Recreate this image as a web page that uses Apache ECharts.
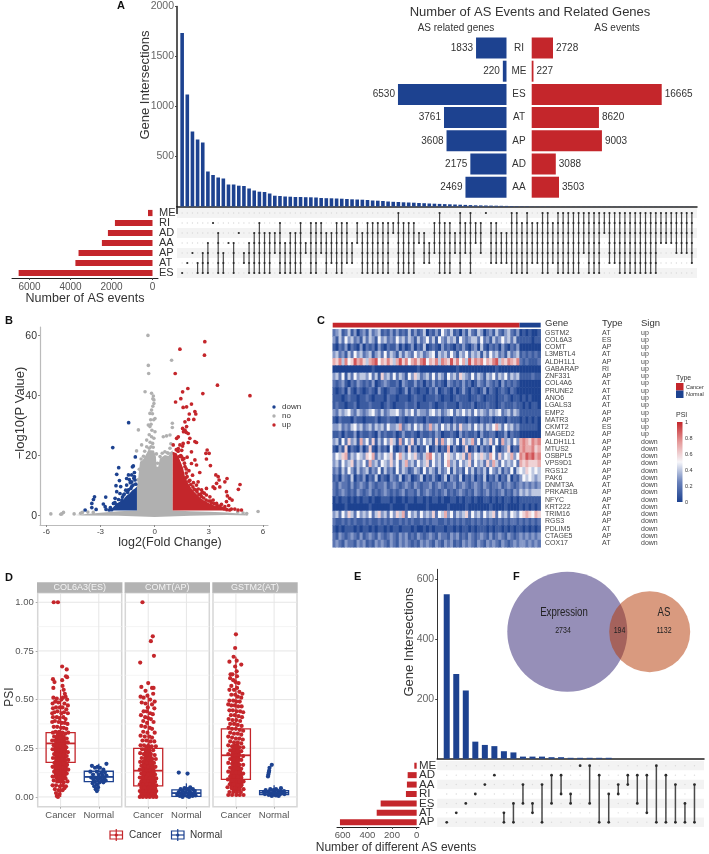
<!DOCTYPE html>
<html><head><meta charset="utf-8">
<style>html,body{margin:0;padding:0;background:#fff}#c{width:709px;height:854px}</style>
<script src="https://cdn.jsdelivr.net/npm/echarts@6/dist/echarts.min.js"></script>
</head><body><div id="c"></div>
<script>
const BLUE='#1d4290',RED='#c4262b',INK='#333333',GREY='#b0b0b0',FONT='Liberation Sans';
const PSI_RAMP=[BLUE,'#6a82bb','#f6f6fa','#e59a9a',RED];
// ---------- Panel A
const intersectionValuesA=[1735,1120,750,670,640,350,315,290,280,220,220,208,205,180,160,148,145,130,108,105,100,98,95,95,93,92,90,85,83,82,80,78,75,72,70,68,65,60,58,55,50,47,45,42,40,38,35,33,30,28,26,24,22,20,18,16,14,12,11,10,9,8,7,6,5,4,3,3,2,2,2,2,1,1,1,1,1,1,1,1,1,1,1,1,1,1,1,1,1,1,1,1,1,1,1,1,1,1,1,1];
const setRowsA=['ME','RI','AD','AA','AP','AT','ES'];
const setLettersA='MRDAPTE';
const setSizesA=[220,1833,2175,2469,3608,3761,6530];
const intersectionSpansA=['E','T','P','TE','PE','AE','R','DE','PE','A','AE','D','PT','AE','DE','RE','DE','DE','DP','RE','AE','DE','DE','RE','AP','RE','RE','RP','DE','DT','RE','RE','RT','AT','RA','DE','RE','RE','RE','RE','RE','RD','ME','RE','RE','RE','DA','DT','AT','RP','ME','RE','RE','DP','ME','RP','ME','RA','RP','M','RT','RT','DT','DT','ME','ME','RE','ME','RT','RT','ME','ME','RT','ME','ME','ME','ME','ME','MP','ME','ME','ME','MD','MT','MT','ME','ME','ME','ME','ME','ME','ME','ME','MA','MA','MA','MP','MP','MP','MT'];
const mirrorCats=['RI','ME','ES','AT','AP','AD','AA'];
const relatedGenes=[1833,220,6530,3761,3608,2175,2469];
const asEvents=[2728,227,16665,8620,9003,3088,3503];
// ---------- Panel B (hull vertices are the outline of the saturated point clouds)
const greyBase=[[-4.4,.2],[-3,1],[-2,1.5],[-1,1.7],[1,1.7],[2,1.5],[3,1.3],[4,1.1],[5,.6],[5.2,.1],[4,.2],[2,0],[0,-.4],[-2,0],[-4,.1]];
const greyCore=[[-.98,1.5],[-.98,9.7],[-.9,13],[-.81,18],[-.66,18.6],[-.44,20.8],[-.35,21.9],[-.04,21.7],[.07,19.7],[.11,16.3],[.2,16.3],[.29,19.1],[.57,20.2],[.76,19.9],[.99,21.9],[1,1.5]];
const blueCore=[[-.98,1.7],[-.98,9.7],[-1.09,9.1],[-1.22,8.6],[-1.4,7.4],[-1.58,6.6],[-1.73,5.4],[-1.92,4.7],[-2.1,4.1],[-2.28,3],[-2.41,1.7]];
const redCore=[[1,1.7],[1,21.3],[1.22,20.8],[1.4,18.6],[1.58,15.8],[1.68,13],[1.86,10.8],[2.04,9.1],[2.23,7.7],[2.47,6.3],[2.69,5.2],[2.96,4.3],[3.24,3.6],[3.52,2.8],[3.79,2.1],[4.07,1.7]];
const volcanoNo=[[-.37,60.1],[-.35,50.1],[-.33,47.4],[.94,51.8],[-.53,41.3],[-.17,40.8],[-.07,39.9],[-.1,39],[-.04,38.6],[-.04,37.4],[-.1,36.5],[-.17,35.2],[-.26,34.1],[.02,32.4],[-.05,32],[-.35,30.2],[-.26,29.7],[-.2,30.5],[-.9,28.6],[.98,30.8],[.98,29.4],[.85,26.9],[.66,26.6],[.48,26.3],[.02,28],[-.17,26.3],[-.04,25.8],[-.44,25.2],[-.3,27],[-.72,23.6],[-1,21.6],[-.44,23],[-.11,24.1],[.57,21.3],[.76,20.8],[.94,20.8],[.3,19.7],[-.2,23],[-.3,22.5],[-.55,21.5],[.85,22.5],[.9,24],[-5.75,.6],[-5.14,.6],[-5.05,1.1],[-5.2,.5],[-4.46,.6],[5.73,1.4],[-4.1,.8],[-4,1.1],[-3.7,1.2],[-3.4,1.1],[4.6,1.2],[4.9,.9],[5.1,.7],[-.25,24.5],[-.08,22.8],[.1,20.6],[.42,20.8],[.7,21],[-.62,19.8],[-.75,18.9],[-.85,15.5],[-.93,12],[.16,17.5],[-.15,28.5],[-.22,32],[-.12,34]];
const volcanoUp=[[2.78,58],[2.76,53.5],[1.4,55.5],[1.14,47.4],[3.48,43.5],[5.28,40],[2.67,40.7],[1.84,42.4],[1.55,41.3],[1.45,39],[1.16,37.9],[2.04,37.2],[1.58,36.1],[1.77,36.3],[2.23,34.7],[2.28,33.9],[1.92,33.9],[1.88,32.1],[2.17,32.1],[1.68,31.3],[1.77,29.7],[1.55,29.1],[1.68,28.5],[1.6,28],[1.75,27.8],[1.86,27.4],[1.95,25.8],[2.23,24.7],[2.32,24.4],[1.86,24.4],[1.22,25.8],[1.31,26.3],[1.58,24.1],[1.03,23.6],[1.31,22.4],[1.55,23.2],[1.4,23.6],[1.2,22],[1.5,21.8],[2.91,21.9],[3.02,20.8],[2.84,20.8],[2.87,18.9],[3.09,16.7],[2.04,21.3],[2.23,18.6],[2.32,16.9],[2.04,17.4],[1.8,19.5],[1.65,17.5],[1.9,15],[2.1,13.5],[2.5,14.4],[3.39,13.6],[3.52,13],[3.57,11.9],[4.01,12.4],[3.89,11.3],[4.73,10.4],[4.64,8.8],[3.43,10.8],[3.24,9.6],[2.87,9.1],[2.6,8.6],[3.33,9.1],[3.61,9.6],[2.41,11.3],[2.32,10.2],[2.15,11],[3.98,8],[4.03,6.6],[4.16,5.8],[4.29,5.2],[3.98,4.7],[4.1,3.4],[2.87,6.9],[3.06,6.3],[3.24,5.2],[3.43,4.1],[3.61,3],[3.89,3],[4.16,1.9],[4.81,1.9],[4.62,1.9],[4.44,2.2],[2.75,7.5],[2.55,7.2],[3.1,4.9],[3.7,3.8],[2.3,8.5],[1.95,11.8],[1.75,14.2],[1.3,21.5],[1.45,20],[1.55,18.7],[1.68,16.4],[1.75,15.6],[1.62,19],[1.8,13],[1.9,11.5],[2,10.4],[2.12,9.6],[2.2,8.8],[2.35,7.9],[2.45,7],[2.6,6.4],[2.72,5.9],[2.85,5.2],[3,4.9],[3.15,4.2],[3.3,4],[3.45,3.3],[3.55,3.2],[3.72,2.5],[3.85,2.3],[4,2],[4.25,2.2],[2.42,8.9],[2.65,7.8],[1.72,12.6],[1.5,19.6],[1.38,19.8]];
const volcanoDown=[[-1.44,31],[-2.32,22.7],[-1.07,19.6],[-1.18,16.6],[-1.23,16.3],[-1.99,16],[-2.1,13.8],[-1.12,14.4],[-1.27,13.6],[-1.45,13.6],[-1.95,11.7],[-1.55,12.4],[-2.14,10],[-1.88,9.7],[-1.55,10.2],[-1.27,11.3],[-1.09,11.9],[-2.1,8],[-1.92,7.4],[-1.73,6.9],[-1.45,8.6],[-1.27,9.7],[-1.35,11],[-1.15,12.5],[-1.6,8.5],[-3.33,6.3],[-3.39,5.4],[-2.71,6.2],[-3.48,4.1],[-2.84,3.9],[-3.48,2.7],[-3.24,2.1],[-2.74,3],[-2.69,2.1],[-3.85,1.9],[-2.19,5.8],[-2.28,4.1],[-2.38,2],[-2.1,3.6],[-1.82,5.2],[-1.2,10.2],[-1.05,10.5],[-1.32,9.1],[-1.5,7.8],[-1.68,7.2],[-1.78,6.2],[-2,5.4],[-2.2,4.4],[-2.45,2.7],[-2.52,1.9],[-1.12,13],[-1.4,12]];
const volcanoLegend=[['down',BLUE],['no',GREY],['up',RED]];
// ---------- Panel C (each digit is PSI in tenths; cancer samples | normal samples)
const geneNames=['GSTM2','COL6A3','COMT','L3MBTL4','ALDH1L1','GABARAP','ZNF331','COL4A6','PRUNE2','ANO6','LGALS3','EMP2','MATR3','CKMT2','MAGED2','ALDH1L1','MTUS2','OSBPL5','VPS9D1','RGS12','PAK6','DNMT3A','PRKAR1B','NFYC','KRT222','TRIM16','RGS3','PDLIM5','CTAGE5','COX17'];
const geneTypes=['AT','ES','AP','AT','AP','RI','AP','AT','AT','AT','AT','AP','AP','ES','AP','AP','AP','AP','AP','AP','AP','AT','AP','AP','AT','AP','AP','AT','AP','AT'];
const geneSigns=['up','up','up','up','up','up','up','up','up','up','up','up','up','up','up','down','down','down','down','down','down','down','down','down','down','down','down','down','down','down'];
const heatRows=[
'2341241302 3142341213 1312141312 4021315324 1203142143 0231421342 13|0101001',
'3142534231 4243153423 2534243142 3524153243 4153234425 2314235342 41|1111011',
'1021302103 0212031021 1302013021 4012103121 0213102304 1021203102 13|0000000',
'3423142534 2341342524 3142432534 2345143425 3143524341 4253423142 34|1212121',
'7684856978 6478957686 4796857868 9576848769 6857496878 5768947687 68|2121112',
'0000000000 0001000000 0000000010 0000000000 0100000000 0000100000 00|0000000',
'3425142534 4352416342 5243153642 3425243153 4264325243 1435243524 34|1111211',
'2123102132 1213012321 1203211312 0213121032 1213120132 1321203121 21|0000000',
'1012031021 0121031012 2101302101 1021301210 2013102101 3021012102 10|0000000',
'1110121101 1210111021 1011101211 0111210110 1211101121 0111011210 11|0101000',
'1211011201 1121110121 0111211201 1121011211 1021112011 1211012111 21|1010110',
'3243453243 2345324234 4532435243 3245342345 2435342534 3243452342 43|1111111',
'1021110211 0111201121 1021011211 0211120110 2111021102 1120111021 11|0101010',
'3342324534 2342434253 3472342534 2373425342 4263342534 2435742534 23|1111110',
'1120211302 1121031211 2013112102 1121320112 1031211203 1122011302 11|0000000',
'3415263417 3526142536 4172536142 5341627354 2516347251 4362517342 53|7876878',
'1031602103 0261031205 1023061302 1501302170 3102601303 1205102360 21|7877867',
'3546724354 3657243546 2574354632 4785342564 3546273546 4375263547 35|8798978',
'3425346243 5273425436 3524734253 4625342573 4253462534 2637425343 52|7676667',
'2314253142 3413251423 1524312431 5243142351 4231524132 4153241325 14|5465454',
'1203214021 3021402103 2140230124 0213102403 2140213021 4021302140 21|3545434',
'2132213123 2132122312 3212321321 2231232122 3123212321 3212231232 12|3232323',
'2123212132 1231212321 2123122131 2321212312 1232121321 2312123121 32|4343444',
'0101101010 1101001110 1001011011 0101101001 1010110100 1101010110 10|1111111',
'0000100000 0010000001 0000100000 0100000010 0000100000 0010000100 00|1010101',
'3425364253 4352463425 3647253425 3436254735 2434625342 5346253425 43|5676576',
'2112121211 2121121212 1121212112 1212211212 1212112121 2121121212 21|2121212',
'1010111010 1101011010 1101110100 1010111011 0101101011 1010110101 01|1010101',
'2132123213 1232132123 2132312132 1232132213 2312132123 2131232132 12|3232323',
'2321322132 3121323213 2132321213 2321321323 1213232132 1323213212 32|3323232'
];
const heatAnnotation=[[0,62,'Cancer'],[62,69,'Normal']];
// ---------- Panel D: [jitter, PSI]
const col6a3Cancer=[[-.18,1],[-.07,1],[.04,.67],[.16,.655],[-.2,.605],[.14,.62],[.17,.615],[.04,.6],[-.16,.59],[-.19,.56],[.05,.57],[.08,.55],[.11,.53],[.13,.515],[-.19,.51],[-.1,.505],[.02,.5],[.06,.51],[.17,.5],[-.21,.48],[-.14,.49],[-.06,.485],[.1,.48],[.19,.47],[-.2,.455],[-.12,.46],[-.02,.46],[.05,.46],[.15,.45],[-.22,.43],[-.16,.435],[-.08,.44],[.02,.43],[.09,.435],[.19,.43],[-.2,.41],[-.1,.41],[-.03,.405],[.07,.41],[.13,.4],[-.22,.385],[-.15,.39],[-.05,.385],[.03,.38],[.11,.38],[.18,.375],[-.18,.36],[-.09,.36],[.01,.355],[.08,.355],[.15,.35],[-.13,.335],[-.04,.335],[.05,.33],[.12,.325],[-.2,.33],[.2,.33],[-.17,.31],[-.09,.31],[0,.305],[.08,.31],[.16,.3],[-.22,.29],[-.13,.29],[-.05,.285],[.04,.285],[.11,.28],[.19,.28],[-.18,.265],[-.09,.265],[-.01,.26],[.07,.26],[.15,.255],[-.21,.245],[-.13,.24],[-.05,.24],[.03,.24],[.11,.235],[.19,.23],[-.17,.22],[-.08,.22],[0,.215],[.08,.215],[.16,.21],[-.2,.2],[-.12,.2],[-.04,.195],[.04,.195],[.12,.19],[.2,.19],[-.16,.175],[-.07,.175],[.01,.17],[.09,.17],[.17,.165],[-.21,.155],[-.12,.15],[-.04,.15],[.05,.15],[.13,.145],[.2,.14],[-.17,.13],[-.08,.13],[0,.125],[.09,.125],[.16,.12],[-.21,.105],[-.12,.105],[-.03,.1],[.05,.1],[.13,.095],[-.18,.085],[-.09,.08],[0,.08],[.08,.075],[.18,.08],[-.21,.06],[-.12,.06],[-.02,.055],[.06,.06],[.14,.055],[-.15,.04],[-.05,.035],[.05,.035],[.1,.045],[-.12,.02],[-.03,.015],[-.1,.005],[-.07,0]];
const col6a3Normal=[[.2,.17],[-.18,.16],[-.03,.155],[.03,.15],[-.1,.15],[.12,.14],[-.22,.13],[-.05,.13],[.07,.125],[.16,.125],[-.15,.115],[0,.115],[.1,.11],[.2,.11],[-.2,.1],[-.08,.1],[.04,.1],[.14,.095],[-.14,.09],[-.02,.09],[.08,.085],[.18,.085],[-.1,.08],[.02,.075],[.12,.075],[-.16,.07],[-.05,.065],[-.12,.055],[-.02,.05],[-.08,.04],[-.05,.03]];
const comtCancer=[[-.15,1],[.12,.825],[.07,.8],[.15,.725],[-.21,.69],[0,.585],[-.18,.565],[.1,.56],[.14,.56],[-.07,.545],[.13,.53],[-.02,.52],[-.2,.515],[-.12,.51],[.05,.5],[.17,.49],[-.17,.485],[-.07,.48],[.1,.475],[-.01,.46],[.16,.455],[-.12,.44],[-.04,.44],[.05,.43],[.12,.425],[-.19,.42],[-.08,.41],[0,.405],[.07,.4],[-.13,.39],[-.03,.38],[.14,.385],[-.18,.365],[-.08,.36],[.04,.355],[.1,.35],[-.13,.335],[-.02,.33],[.17,.33],[-.2,.315],[-.09,.31],[.03,.31],[.1,.305],[-.15,.29],[-.05,.29],[.06,.285],[.16,.285],[-.2,.265],[-.11,.265],[-.01,.26],[.09,.26],[.2,.26],[-.16,.245],[-.07,.24],[.03,.24],[.13,.24],[-.21,.225],[-.12,.22],[-.03,.22],[.07,.22],[.17,.215],[-.17,.2],[-.08,.2],[.02,.2],[.11,.195],[.2,.195],[-.21,.18],[-.13,.18],[-.04,.175],[.06,.175],[.15,.175],[-.18,.16],[-.09,.16],[0,.155],[.1,.155],[.19,.155],[-.22,.14],[-.14,.14],[-.05,.135],[.05,.135],[.14,.135],[-.18,.12],[-.1,.12],[-.01,.115],[.08,.115],[.18,.115],[-.22,.1],[-.14,.1],[-.05,.1],[.04,.095],[.13,.095],[.21,.095],[-.18,.08],[-.09,.08],[0,.08],[.09,.08],[.18,.078],[-.22,.065],[-.13,.063],[-.04,.063],[.05,.063],[.14,.06],[.21,.06],[-.18,.047],[-.09,.047],[0,.047],[.09,.047],[.18,.045],[-.22,.03],[-.14,.03],[-.05,.03],[.04,.03],[.13,.03],[.21,.03],[-.18,.015],[-.09,.015],[0,.015],[.09,.015],[.18,.015],[-.22,0],[-.14,0],[-.05,0],[.04,0],[.13,0],[.21,0]];
const comtNormal=[[-.2,.125],[.03,.12],[.1,.05],[-.05,.045],[-.15,.04],[.03,.04],[.17,.04],[-.1,.03],[.08,.03],[.22,.03],[-.2,.025],[-.02,.025],[.13,.02],[-.13,.018],[.05,.018],[.2,.015],[-.24,.012],[-.06,.01],[.1,.01],[-.17,.005],[.02,.005],[.16,.005],[-.1,0],[.07,0],[.24,.008]];
const gstm2Cancer=[[0,.835],[-.02,.765],[-.06,.72],[-.17,.695],[.02,.7],[.14,.68],[-.02,.67],[.02,.645],[-.14,.63],[-.09,.63],[.03,.62],[-.15,.61],[-.07,.6],[-.01,.59],[.07,.585],[-.12,.57],[.03,.56],[-.17,.55],[-.05,.55],[.09,.54],[.17,.53],[-.12,.525],[-.02,.525],[.05,.515],[.14,.51],[-.17,.495],[-.07,.495],[.01,.49],[.1,.49],[-.2,.475],[-.12,.47],[-.03,.47],[.06,.465],[.15,.465],[-.17,.445],[-.08,.445],[.02,.44],[.11,.44],[.19,.435],[-.13,.42],[-.03,.42],[.07,.415],[.16,.41],[-.19,.4],[-.09,.395],[.01,.395],[.11,.39],[-.15,.375],[-.05,.375],[.05,.37],[.15,.365],[-.19,.355],[-.1,.35],[0,.35],[.1,.345],[.19,.34],[-.15,.33],[-.05,.325],[.05,.325],[.14,.32],[-.2,.31],[-.1,.305],[0,.3],[.09,.3],[.18,.295],[-.15,.285],[-.05,.28],[.05,.28],[.14,.275],[-.2,.265],[-.1,.26],[0,.26],[.09,.255],[.19,.255],[-.15,.24],[-.05,.24],[.04,.235],[.14,.235],[-.2,.22],[-.1,.215],[0,.215],[.09,.215],[.19,.21],[-.15,.195],[-.05,.195],[.05,.19],[.14,.19],[-.2,.175],[-.1,.17],[0,.17],[.09,.165],[.19,.165],[-.15,.15],[-.05,.15],[.05,.145],[.14,.145],[-.2,.13],[-.1,.125],[0,.125],[.09,.125],[.19,.12],[-.15,.105],[-.05,.105],[.05,.1],[.14,.1],[-.21,.09],[-.1,.085],[0,.085],[.09,.08],[.2,.08],[-.16,.065],[-.06,.065],[.04,.06],[.14,.06],[-.22,.05],[-.11,.045],[-.01,.045],[.09,.04],[.2,.04],[-.17,.025],[-.07,.025],[.03,.025],[.13,.025],[-.2,.01],[-.1,.01],[.01,.01],[.1,.01],[.2,.01]];
const gstm2Normal=[[-.06,.165],[-.12,.15],[-.13,.135],[-.14,.125],[-.15,.115],[-.16,.105],[.18,.045],[-.1,.04],[.05,.04],[-.22,.035],[-.02,.035],[.12,.03],[.26,.03],[-.27,.025],[-.15,.025],[.02,.025],[.2,.022],[-.08,.02],[.1,.02],[-.24,.015],[-.02,.015],[.16,.015],[.27,.015],[-.14,.01],[.05,.008],[-.06,.005],[.12,.005]];
const col6a3Core=[[-.17,.1],[-.19,.15],[-.16,.2],[-.19,.25],[-.15,.3],[-.1,.34],[.05,.33],[.13,.3],[.17,.25],[.15,.2],[.19,.15],[.15,.1],[.05,.07],[-.08,.07]];
const comtCore=[[-.21,0],[-.21,.08],[-.17,.12],[-.18,.16],[-.12,.2],[-.1,.26],[.03,.28],[.1,.22],[.15,.17],[.2,.12],[.18,.08],[.21,0]];
const gstm2Core=[[-.18,.06],[-.17,.12],[-.12,.16],[-.14,.23],[-.1,.27],[.08,.28],[.12,.22],[.1,.17],[.18,.12],[.2,.06],[.1,.03],[-.1,.03]];
const boxStats=[
 [[1,0,.178,.275,.33,.55],[2,.03,.079,.103,.132,.17]],
 [[1,0,.057,.135,.25,.53],[2,0,.003,.02,.036,.07]],
 [[1,.01,.09,.214,.35,.72],[2,0,.012,.022,.033,.06]]];
const facetNames=['COL6A3(ES)','COMT(AP)','GSTM2(AT)'];
const facetPoints=[[col6a3Cancer,col6a3Normal],[comtCancer,comtNormal],[gstm2Cancer,gstm2Normal]];
const facetCores=[col6a3Core,comtCore,gstm2Core];
const psiTicks=[0,.25,.5,.75,1];
const psiMinor=[.125,.375,.625,.875];
// ---------- Panel E
const intersectionValuesE=[550,283,228,57,46,42,25,21,7,7,7,5,5,3,3,3,3,3,0,0,0,0,0,0,0,0,0];
const setRowsE=['ME','AD','AA','RI','ES','AT','AP'];
const setLettersE='MDARETP';
const setSizesE=[19,73,79,87,292,324,622];
const intersectionSpansE=['P','T','E','R','A','D','TP','EP','AE','ET','AP','DE','DR','RE','M','ME','DP','RP','AR','DA','DE','DT','MP','DP','AP','EP','AP'];
// ---------- Panel F
const vennLabels=[['Expression',564,612.7,13],['2734',563,630.7,9.5],['194',619.5,630.7,9.5],['AS',664,612.7,13],['1132',664,630.7,9.5]];

// ---------- helpers
const plain=v=>String(v);
const grids=[],xAxes=[],yAxes=[],series=[],graphic=[];
function addGrid(l,t,w,h,x,y){grids.push({left:l,top:t,width:w,height:h});const k=grids.length-1;
 xAxes.push({gridIndex:k,...x});yAxes.push({gridIndex:k,...y});return k;}
const off={axisLine:{show:false},axisTick:{show:false},axisLabel:{show:false},splitLine:{show:false}};
function T(x,y,text,o={}){graphic.push({type:'text',x,y,rotation:o.rot||0,scaleX:o.sx||1,z:50,silent:true,style:{text,fill:o.color||INK,font:`${o.weight||'normal'} ${o.size||10}px ${FONT}`,align:o.align||'left',verticalAlign:'middle',textAlign:o.align||'left',textVerticalAlign:'middle'}});}
function R(x,y,w,h,fill,stroke){graphic.push({type:'rect',silent:true,z:40,shape:{x,y,width:w,height:h},style:{fill:fill||'none',stroke:stroke||null,lineWidth:stroke?1.2:0}});}
function L(x1,y1,x2,y2,c,w){graphic.push({type:'line',silent:true,z:40,shape:{x1,y1,x2,y2},style:{stroke:c,lineWidth:w}});}
function poly(k,pts,color,z){series.push({type:'custom',coordinateSystem:'cartesian2d',xAxisIndex:k,yAxisIndex:k,data:pts,z,silent:true,encode:{x:0,y:1},
 renderItem:(p,api)=>p.dataIndex===0?{type:'polygon',shape:{points:pts.map(q=>api.coord(q))},style:{fill:color}}:null});}
function dots(k,pts,color,size,z){series.push({type:'scatter',xAxisIndex:k,yAxisIndex:k,data:pts,symbolSize:size,itemStyle:{color,opacity:1},z,silent:true});}
function segments(k,data,color,width,z){series.push({type:'custom',coordinateSystem:'cartesian2d',xAxisIndex:k,yAxisIndex:k,data,z,silent:true,encode:{x:[0,2],y:[1,3]},clip:false,
 renderItem:(p,api)=>{const a=api.coord([api.value(0),api.value(1)]),b=api.coord([api.value(2),api.value(3)]);return {type:'line',shape:{x1:a[0],y1:a[1],x2:b[0],y2:b[1]},style:{stroke:color,lineWidth:width}};}});}
function matrix(k,nCols,rows,letters,spans,allDots,lineW){
 const bg=[];for(let r=0;r<rows.length;r++)for(let c=0;c<nCols;c++)bg.push([c,r]);
 dots(k,bg,'#dadada',1.4,3);
 const seg=[],on=[];
 spans.forEach((s,c)=>{const a=letters.indexOf(s[0]),b=letters.indexOf(s[s.length-1]);
  if(a!==b)seg.push([c,a,c,b]);
  if(allDots){for(let r=a;r<=b;r++)on.push([c,r]);}else{on.push([c,a]);if(a!==b)on.push([c,b]);}});
 segments(k,seg,'#4a4a4a',lineW,4);
 dots(k,on,'#2b2b2b',allDots?2.2:2.8,5);
}
function rowAxis(rows){return {type:'category',inverse:true,data:rows,...off,splitArea:{show:true,interval:0,areaStyle:{color:['#f3f3f3','#ffffff']}}};}

// ---------- A: intersections
let k=addGrid(177,6.5,520,200,
 {type:'value',min:-1,max:100,...off,axisLine:{show:true,onZero:false,lineStyle:{color:'#222',width:1.5}}},
 {type:'value',min:0,max:2000,splitLine:{show:false},axisLine:{show:true,onZero:false,lineStyle:{color:'#222',width:1.5}},axisTick:{show:true,length:2,lineStyle:{color:'#444'},customValues:[500,1000,1500,2000]},axisLabel:{color:'#666',fontSize:10.5,margin:3,customValues:[500,1000,1500,2000],formatter:plain}});
series.push({type:'bar',xAxisIndex:k,yAxisIndex:k,data:intersectionValuesA.map((v,i)=>[i,v]),barWidth:3.6,itemStyle:{color:BLUE},silent:true});
L(177,206,177,214,'#222',1.5);
k=addGrid(177,208,520,70,{type:'value',min:-1,max:100,...off},rowAxis(setRowsA));
matrix(k,100,setRowsA,setLettersA,intersectionSpansA,true,1.2);
// A: set size bars
k=addGrid(12,208,146,70,
 {type:'value',inverse:true,min:-268,max:6854,splitLine:{show:false},axisLine:{show:true,onZero:false,lineStyle:{color:'#222',width:1}},axisTick:{show:true,length:2,lineStyle:{color:'#444'},customValues:[0,2000,4000,6000]},axisLabel:{color:'#555',fontSize:10,margin:4,customValues:[0,2000,4000,6000],formatter:plain}},
 {type:'category',inverse:true,position:'right',data:setRowsA,axisLine:{show:false,onZero:false},axisTick:{show:false},splitLine:{show:false},axisLabel:{color:INK,fontSize:11,margin:1,align:'left',interval:0}});
series.push({type:'bar',xAxisIndex:k,yAxisIndex:k,data:setSizesA,barWidth:6.2,itemStyle:{color:RED},silent:true});
// A: mirrored bars
k=addGrid(370,36.4,136.5,162.4,{type:'value',inverse:true,min:0,max:8213,...off},
 {type:'category',inverse:true,position:'right',data:mirrorCats,axisLine:{show:false,onZero:false},axisTick:{show:false},splitLine:{show:false},axisLabel:{color:INK,fontSize:10,margin:12.5,align:'center',interval:0}});
series.push({type:'bar',xAxisIndex:k,yAxisIndex:k,data:relatedGenes,barWidth:21,itemStyle:{color:BLUE},silent:true,label:{show:true,position:'left',distance:3,color:INK,fontSize:10}});
k=addGrid(531.7,36.4,170,162.4,{type:'value',min:0,max:21792,...off},{type:'category',inverse:true,data:mirrorCats,...off});
series.push({type:'bar',xAxisIndex:k,yAxisIndex:k,data:asEvents,barWidth:21,itemStyle:{color:RED},silent:true,label:{show:true,position:'right',distance:3,color:INK,fontSize:10}});
T(530,12,'Number of AS Events and Related Genes',{size:13,align:'center'});
T(456,28,'AS related genes',{size:10,align:'center'});
T(617,28,'AS events',{size:10,align:'center'});
T(145,85,'Gene Intersections',{size:13,align:'center',rot:Math.PI/2});
T(85,299,'Number of AS events',{size:12.5,align:'center'});

// ---------- B: volcano
k=addGrid(40,327,228,198,
 {type:'value',min:-6.35,max:6.28,splitLine:{show:false},axisLine:{show:true,onZero:false,lineStyle:{color:'#bbb',width:1.2}},axisTick:{show:true,length:2,lineStyle:{color:'#888'},customValues:[-6,-3,0,3,6]},axisLabel:{color:'#444',fontSize:8,margin:3,customValues:[-6,-3,0,3,6]}},
 {type:'value',min:-3.1,max:62.9,splitLine:{show:false},axisLine:{show:true,onZero:false,lineStyle:{color:'#bbb',width:1.2}},axisTick:{show:true,length:2,lineStyle:{color:'#888'},customValues:[0,20,40,60]},axisLabel:{color:'#333',fontSize:10.5,margin:3,customValues:[0,20,40,60]}});
poly(k,greyBase,GREY,2);poly(k,greyCore,GREY,2);
dots(k,volcanoNo,GREY,3.6,3);
poly(k,blueCore,BLUE,4);poly(k,redCore,RED,4);
dots(k,volcanoDown,BLUE,3.7,5);dots(k,volcanoUp,RED,3.7,5);
volcanoLegend.forEach((e,i)=>{graphic.push({type:'circle',silent:true,z:40,shape:{cx:274,cy:407+i*9,r:1.7},style:{fill:e[1]}});T(282,407+i*9,e[0],{size:8});});
T(20,413,'−log10(P Value)',{size:13,align:'center',rot:Math.PI/2});
T(170,543,'log2(Fold Change)',{size:12.5,align:'center'});

// ---------- C: heatmap
const heatClean=heatRows.map(s=>s.replace(/[ |]/g,''));
const heatData=[];heatClean.forEach((s,r)=>[...s].forEach((d,c)=>heatData.push([c,r,+d/10])));
const colIds=heatClean[0].split('').map((_,i)=>i);
k=addGrid(332.7,329.3,208,218,{type:'category',data:colIds,...off},{type:'category',inverse:true,data:geneNames.map((g,i)=>g+i),...off});
series.push({type:'heatmap',xAxisIndex:k,yAxisIndex:k,data:heatData,silent:true,progressive:0,itemStyle:{borderWidth:0}});
const heatSeriesIndex=series.length-1;
k=addGrid(332.7,322.7,208,4.8,{type:'value',min:0,max:69,...off},{type:'value',min:0,max:1,...off});
series.push({type:'custom',coordinateSystem:'cartesian2d',xAxisIndex:k,yAxisIndex:k,data:heatAnnotation.map(a=>[a[0],a[1]]),silent:true,encode:{x:[0,1]},
 renderItem:(p,api)=>{const a=api.coord([api.value(0),1]),b=api.coord([api.value(1),0]);return {type:'rect',shape:{x:a[0],y:a[1],width:b[0]-a[0],height:b[1]-a[1]},style:{fill:p.dataIndex===0?RED:BLUE}};}});
T(545,323.5,'Gene',{size:9.5});T(602,323.5,'Type',{size:9.5});T(641,323.5,'Sign',{size:9.5});
geneNames.forEach((g,i)=>{const y=332.7+i*7.262;T(545,y,g,{size:7,color:'#444'});T(602,y,geneTypes[i],{size:7,color:'#444'});T(641,y,geneSigns[i],{size:7,color:'#444'});});
T(676,378,'Type',{size:7});R(676,383,7.5,7.5,RED);R(676,390.5,7.5,7.5,BLUE);
T(686,387,'Cancer',{size:5.5});T(686,394.5,'Normal',{size:5.5});
T(676,415,'PSI',{size:7});
graphic.push({type:'rect',silent:true,z:40,shape:{x:677,y:422,width:5.5,height:80},style:{fill:{type:'linear',x:0,y:0,x2:0,y2:1,colorStops:PSI_RAMP.slice().reverse().map((color,i)=>({offset:i/4,color}))}}});
['1','0.8','0.6','0.4','0.2','0'].forEach((t,i)=>T(685,422+i*16,t,{size:5.5}));

// ---------- D: facets
const facetLeft=[37.7,125.3,213];
facetNames.forEach((name,f)=>{
 const c=addGrid(facetLeft[f],592.7,84,214,
  {type:'value',min:.4,max:2.6,splitLine:{show:false},axisLine:{show:false,onZero:false},axisTick:{show:true,length:2,lineStyle:{color:'#aaa'},customValues:[1,2]},axisLabel:{color:'#555',fontSize:9.5,margin:4,customValues:[1,2],formatter:v=>v===1?'Cancer':'Normal'}},
  {type:'value',min:-.05,max:1.049,splitLine:{show:false},axisLine:{show:false,onZero:false},axisTick:{show:f===0,length:2,lineStyle:{color:'#aaa'},customValues:psiTicks},axisLabel:{show:f===0,color:'#555',fontSize:9.5,margin:4,customValues:psiTicks,formatter:v=>v.toFixed(2)}});
 grids[c].show=true;grids[c].borderColor='#d6d6d6';grids[c].borderWidth=1.5;grids[c].backgroundColor='transparent';
 segments(c,psiMinor.map(v=>[.4,v,2.6,v]),'#f2f2f2',.8,1);
 segments(c,psiTicks.map(v=>[.4,v,2.6,v]).concat([[1,-.05,1,1.049],[2,-.05,2,1.049]]),'#e6e6e6',1,1);
 poly(c,facetCores[f].map(p=>[1+p[0],p[1]]),RED,2);
 [0,1].forEach(g=>dots(c,facetPoints[f][g].map(p=>[g+1+p[0],p[1]]),g?BLUE:RED,4.2,3));
 series.push({type:'custom',coordinateSystem:'cartesian2d',xAxisIndex:c,yAxisIndex:c,data:boxStats[f],silent:true,z:4,encode:{x:0,y:[1,2,3,4,5]},
  renderItem:(p,api)=>{const x=api.value(0),col=x===1?RED:BLUE,hw=.38,st={stroke:col,lineWidth:1.3,fill:null};
   const q1=api.coord([x-hw,api.value(2)]),q3=api.coord([x+hw,api.value(4)]),m1=api.coord([x-hw,api.value(3)]),m2=api.coord([x+hw,api.value(3)]),lo=api.coord([x,api.value(1)]),lo2=api.coord([x,api.value(2)]),hi=api.coord([x,api.value(5)]),hi2=api.coord([x,api.value(4)]);
   return {type:'group',children:[
    {type:'rect',shape:{x:q1[0],y:q3[1],width:q3[0]-q1[0],height:q1[1]-q3[1]},style:st},
    {type:'line',shape:{x1:m1[0],y1:m1[1],x2:m2[0],y2:m2[1]},style:{stroke:col,lineWidth:1.8}},
    {type:'line',shape:{x1:lo[0],y1:lo[1],x2:lo2[0],y2:lo2[1]},style:st},
    {type:'line',shape:{x1:hi[0],y1:hi[1],x2:hi2[0],y2:hi2[1]},style:st}]};}});
 R(facetLeft[f]-.7,582.3,85.4,10.4,'#b3b3b3');
 T(facetLeft[f]+42,587.8,name,{size:9,color:'#f4f4f4',align:'center'});
});
T(10,697,'PSI',{size:12,align:'center',rot:Math.PI/2});
[[110,RED,'Cancer',129],[171.5,BLUE,'Normal',190]].forEach(e=>{
 R(e[0],831,12.5,8,null,e[1]);L(e[0],835,e[0]+12.5,835,e[1],1.2);L(e[0]+6.25,829,e[0]+6.25,841,e[1],1.2);
 graphic.push({type:'circle',silent:true,z:41,shape:{cx:e[0]+6.25,cy:835,r:1.6},style:{fill:e[1]}});
 T(e[3],835,e[2],{size:10,color:'#333'});});

// ---------- E
k=addGrid(437.2,569.3,266.8,189.4,
 {type:'value',min:-1,max:27,...off,axisLine:{show:true,onZero:false,lineStyle:{color:'#222',width:1.5}}},
 {type:'value',min:0,max:633,splitLine:{show:false},axisLine:{show:true,onZero:false,lineStyle:{color:'#333',width:1}},axisTick:{show:true,length:2,lineStyle:{color:'#444'},customValues:[200,400,600]},axisLabel:{color:'#666',fontSize:10.5,margin:3,customValues:[200,400,600],formatter:plain}});
series.push({type:'bar',xAxisIndex:k,yAxisIndex:k,data:intersectionValuesE.map((v,i)=>[i,v]),barWidth:6,itemStyle:{color:BLUE},silent:true});
k=addGrid(437.2,761,266.8,66,{type:'value',min:-1,max:27,...off},rowAxis(setRowsE));
matrix(k,27,setRowsE,setLettersE,intersectionSpansE,false,1.5);
k=addGrid(337,761,82,66,
 {type:'value',inverse:true,min:-19,max:646,splitLine:{show:false},axisLine:{show:true,onZero:false,lineStyle:{color:'#222',width:1}},axisTick:{show:true,length:2,lineStyle:{color:'#444'},customValues:[0,200,400,600]},axisLabel:{color:'#555',fontSize:9.5,margin:3,customValues:[0,200,400,600],formatter:plain}},
 {type:'category',inverse:true,position:'right',data:setRowsE,axisLine:{show:false,onZero:false},axisTick:{show:false},splitLine:{show:false},axisLabel:{color:INK,fontSize:11.5,margin:0,align:'left',interval:0}});
series.push({type:'bar',xAxisIndex:k,yAxisIndex:k,data:setSizesE,barWidth:6,itemStyle:{color:RED},silent:true});
T(409,642,'Gene Intersections',{size:13,align:'center',rot:Math.PI/2});
T(396,848,'Number of different AS events',{size:12,align:'center'});

// ---------- F: Venn
graphic.push({type:'circle',silent:true,z:30,shape:{cx:567.3,cy:631.7,r:60},style:{fill:'rgb(150,143,184)'}});
graphic.push({type:'circle',silent:true,z:31,shape:{cx:649.7,cy:631.7,r:40.5},style:{fill:'rgba(179,53,0,0.5)'}});
vennLabels.forEach(v=>T(v[1],v[2],v[0],{size:v[3],align:'center',color:'#222',sx:.74}));

// ---------- Panel letters
[['A',117,6],['B',5,321],['C',317,321],['D',5,578],['E',354,577],['F',513,577]].forEach(p=>T(p[1],p[2],p[0],{size:11,weight:'bold',color:'#111'}));

const chart=echarts.init(document.getElementById('c'),null,{renderer:'canvas'});
chart.setOption({animation:false,textStyle:{fontFamily:FONT},grid:grids,xAxis:xAxes,yAxis:yAxes,series,
 visualMap:{show:false,min:0,max:1,seriesIndex:heatSeriesIndex,dimension:2,inRange:{color:PSI_RAMP}},
 graphic:{elements:graphic}});
</script></body></html>
